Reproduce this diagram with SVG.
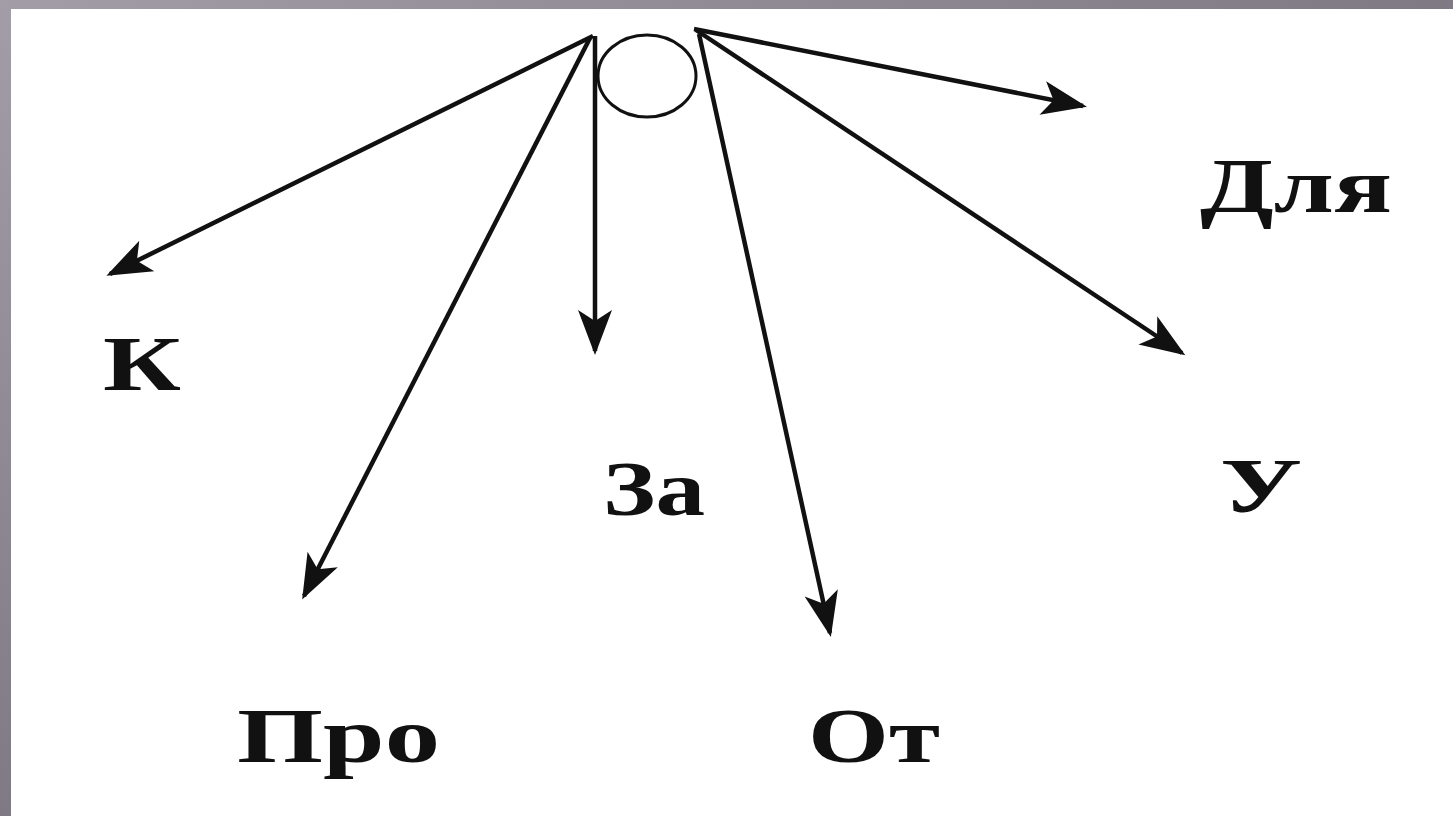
<svg xmlns="http://www.w3.org/2000/svg" width="1453" height="816" viewBox="0 0 1453 816">
<style>
.lbl{font-family:"Liberation Serif","Times New Roman",serif;font-weight:bold;font-size:78px;fill:#111}
.arr{stroke:#111;stroke-width:4.5;fill:none;marker-end:url(#ah)}
</style>
<defs>
<linearGradient id="bg" x1="0" y1="0" x2="1" y2="1">
<stop offset="0" stop-color="#a39da7"/>
<stop offset="1" stop-color="#5c5660"/>
</linearGradient>
<marker id="ah" markerUnits="userSpaceOnUse" markerWidth="60" markerHeight="40" refX="46" refY="20" orient="auto" viewBox="0 0 60 40">
<path d="M50,20 L5,3 L16,20 L5,37 Z" fill="#111"/>
</marker>
</defs>
<rect x="0" y="0" width="1453" height="816" fill="url(#bg)"/>
<rect x="11" y="9" width="1442" height="807" fill="#fff"/>
<g id="center">
<ellipse cx="647" cy="76" rx="49" ry="41" fill="none" stroke="#111" stroke-width="3"/>
</g>
<g id="connectors">
<line class="arr" x1="593" y1="36" x2="110" y2="274"/>
<line class="arr" x1="590" y1="38" x2="304" y2="596"/>
<line class="arr" x1="595" y1="36" x2="595" y2="351"/>
<line class="arr" x1="699" y1="34" x2="830" y2="633"/>
<line class="arr" x1="696" y1="30" x2="1182" y2="353"/>
<line class="arr" x1="694" y1="29" x2="1083" y2="106"/>
</g>
<g id="n-k"><text class="lbl" x="103" y="390" textLength="78" lengthAdjust="spacingAndGlyphs">К</text></g>
<g id="n-pro"><text class="lbl" x="237" y="762" textLength="203" lengthAdjust="spacingAndGlyphs">Про</text></g>
<g id="n-za"><text class="lbl" x="603" y="515" textLength="102" lengthAdjust="spacingAndGlyphs">За</text></g>
<g id="n-ot"><text class="lbl" x="808" y="762" textLength="132" lengthAdjust="spacingAndGlyphs">От</text></g>
<g id="n-u"><text class="lbl" x="1220" y="512" textLength="82" lengthAdjust="spacingAndGlyphs">У</text></g>
<g id="n-dlya"><text class="lbl" x="1200" y="212" textLength="192" lengthAdjust="spacingAndGlyphs">Для</text></g>
</svg>
